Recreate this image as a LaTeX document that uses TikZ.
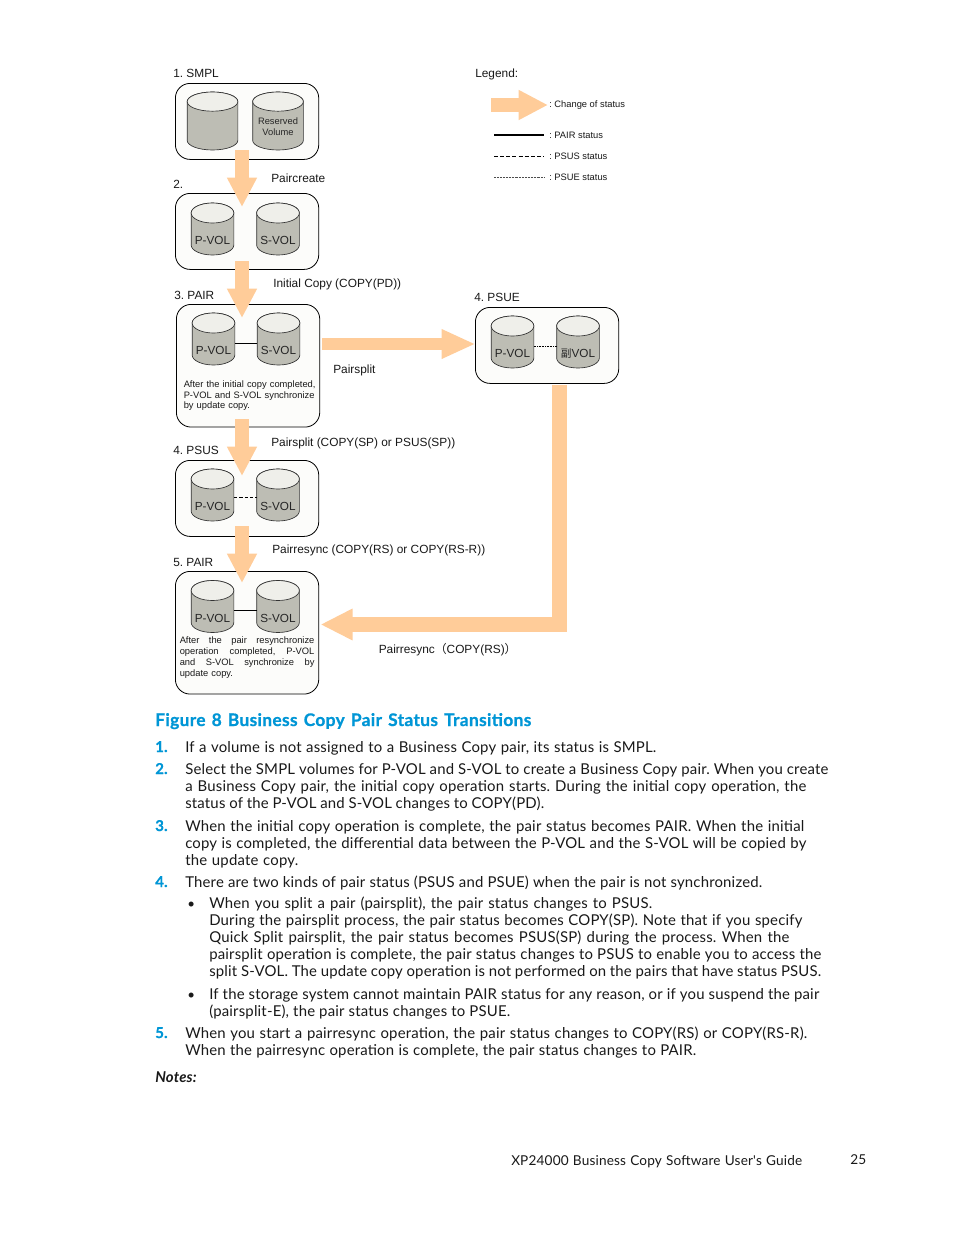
\documentclass[tikz,border=0pt]{standalone}
\usepackage{fontspec}
\setmainfont{Liberation Sans}
\newfontfamily\bodyfont[LetterSpace=1.2,BoldFeatures={FakeBold=0.7}]{Lato}
\newfontfamily\headfont[LetterSpace=2,BoldFeatures={FakeBold=0.8}]{Lato}
\newfontfamily\cjkfont{Noto Sans CJK SC}
\usetikzlibrary{arrows.meta}
\definecolor{arrowor}{HTML}{FFCC99}
\definecolor{volbody}{HTML}{BDBDB4}
\definecolor{voltop}{HTML}{EFEFEA}
\definecolor{hpblue}{HTML}{0096D6}
\definecolor{boxfill}{HTML}{FCFCFA}
\frenchspacing
\newcounter{linectr}
% x-start, baseline y, x-end, text: one line of running text set to its measured width
\newcommand{\bodyline}[4]{\stepcounter{linectr}\node[bodytext] (line\arabic{linectr}) at (#1,#2) {\makebox[\dimexpr(#3pt-#1pt)*3/4\relax][s]{#4}};}
\newcommand{\footline}[4]{\stepcounter{linectr}\node[bodytext,font=\bodyfont\fontsize{10.2}{12}\selectfont] (line\arabic{linectr}) at (#1,#2) {\makebox[\dimexpr(#3pt-#1pt)*3/4\relax][s]{#4}};}
\newcommand{\itemnum}[3]{\stepcounter{linectr}\node[bodytext,text=hpblue] (line\arabic{linectr}) at (#1,#2) {\bfseries #3};}
\newcommand{\bulletmark}[2]{\stepcounter{linectr}\node[bodytext,font=\bodyfont\fontsize{10}{11}\selectfont] (line\arabic{linectr}) at (#1,#2) {•};}
% name, centre x, centre y, half width (pt), height (pt), ellipse radius (pt)
\newcommand{\volshape}[6]{%
  \node[volbox,minimum width=#4pt*2,minimum height=#5pt] (#1) at (#2,#3) {};
  \draw[volline,fill=volbody] ([yshift=-#6pt]#1.north west) -- ([yshift=#6pt]#1.south west)
     arc[start angle=180,end angle=360,x radius=#4pt,y radius=#6pt]
     -- ([yshift=-#6pt]#1.north east)
     arc[start angle=0,end angle=180,x radius=#4pt,y radius=#6pt] -- cycle;
  \draw[volline,fill=voltop] ([yshift=-#6pt]#1.north) ellipse[x radius=#4pt,y radius=#6pt];}
\newcommand{\vol}[4]{\volshape{#1}{#2}{#3}{16}{39}{7.5}%
  \node[vollabel] (#1-text) at ([yshift=-8.8pt]#1.center) {#4};}
\tikzset{
  x=0.75pt,y=-0.75pt,
  statebox/.style={draw=black,fill=boxfill,line width=0.6pt,rounded corners=11pt,anchor=north west,inner sep=0pt,minimum width=107.5pt},
  volbox/.style={rectangle,inner sep=0pt,outer sep=0pt,anchor=center},
  volline/.style={draw=black!80,line width=0.5pt},
  vollabel/.style={font=\fontsize{8.8}{10}\selectfont,text=black!85,inner sep=0pt},
  dlabel/.style={font=\fontsize{8.9}{10}\selectfont,anchor=base west,inner sep=0pt,text=black!90},
  legendtext/.style={font=\fontsize{7}{8}\selectfont,anchor=base west,inner sep=0pt,text=black!90},
  note/.style={font=\fontsize{7}{8.3}\selectfont,anchor=north west,inner sep=0pt,text=black!90},
  flow/.style={draw=arrowor,line width=10.5pt,-{Triangle[length=22pt,width=21pt,fill=arrowor]}},
  bodytext/.style={font=\bodyfont\fontsize{11.2}{13}\selectfont,anchor=base west,inner sep=0pt,text=black!90},
  pairline/.style={draw=black,line width=0.6pt},
}
\begin{document}
\begin{tikzpicture}
\useasboundingbox[fill=white] (0,0) rectangle (954,1235);
% state boxes
\node[statebox,minimum height=57pt] (b1) at (175,83) {};
\node[statebox,minimum height=57pt] (b2) at (175,193) {};
\node[statebox,minimum height=92pt] (b3) at (176,304) {};
\node[statebox,minimum height=57pt] (b4) at (175,460) {};
\node[statebox,minimum height=92pt] (b5) at (175,571) {};
\node[statebox,minimum height=57pt] (b6) at (475,307) {};
% volumes
\volshape{v1a}{212.5}{121}{19}{43.5}{7.2}
\volshape{v1b}{278}{121}{19}{43.5}{7.2}
\node[vollabel,font=\fontsize{7}{8.3}\selectfont,align=center] (v1b-text) at ([yshift=-4.4pt]v1b.center) {Reserved\\Volume};
\vol{p2}{212.5}{229}{P-VOL}
\vol{s2}{278}{229}{S-VOL}
\vol{p3}{213.5}{339}{P-VOL}
\vol{s3}{278.5}{339}{S-VOL}
\vol{p4}{212.5}{495}{P-VOL}
\vol{s4}{278}{495}{S-VOL}
\vol{p5}{212.5}{606.5}{P-VOL}
\vol{s5}{278}{606.5}{S-VOL}
\vol{p6}{512.5}{342}{P-VOL}
\vol{s6}{578}{342}{{\cjkfont\fontsize{8}{9}\selectfont 副}VOL}
% status lines between volumes
\draw[pairline] ([yshift=-3pt]p3.east) -- ([yshift=-3pt]s3.west);
\draw[pairline,dash pattern=on 2.5pt off 1.5pt,line width=0.45pt] ([yshift=-2pt]p4.east) -- ([yshift=-2pt]s4.west);
\draw[pairline] ([yshift=-3pt]p5.east) -- ([yshift=-3pt]s5.west);
\draw[pairline,dash pattern=on 0.6pt off 0.6pt,line width=0.4pt] ([yshift=-3pt]p6.east) -- ([yshift=-3pt]s6.west);
% change-of-status arrows
\coordinate (a1s) at (242,150); \coordinate (a1e) at (242,207);
\coordinate (a2s) at (242,261); \coordinate (a2e) at (242,318);
\coordinate (a3s) at (242,419); \coordinate (a3e) at (242,476);
\coordinate (a4s) at (242,526); \coordinate (a4e) at (242,583);
\coordinate (a5s) at (322,344); \coordinate (a5e) at (475.5,344);
\coordinate (a6s) at (559.5,385); \coordinate (a6e) at (320.5,624.5);
\coordinate (a7s) at (491,105); \coordinate (a7e) at (548,105);
\foreach \s/\e in {a1s/a1e,a2s/a2e,a3s/a3e,a4s/a4e}{\draw[flow] (\s) -- (\e);}
\draw[flow,line width=9pt,-{Triangle[length=25.5pt,width=20.5pt,fill=arrowor]}] (a5s) -- (a5e);
\draw[flow,line width=11pt,-{Triangle[length=24pt,width=22pt,fill=arrowor]}] (a6s) |- (a6e);
\draw[flow] (a7s) -- (a7e);
% legend lines
\coordinate (l1a) at (494,135); \coordinate (l1b) at (544,135);
\coordinate (l2a) at (494,156.5); \coordinate (l2b) at (544,156.5);
\coordinate (l3a) at (494,177.5); \coordinate (l3b) at (544,177.5);
\draw[black,line width=1pt] (l1a) -- (l1b);
\draw[black,line width=0.7pt,dash pattern=on 3pt off 1.6pt] (l2a) -- (l2b);
\draw[black!70,line width=0.35pt,dash pattern=on 0.6pt off 0.5pt] (l3a) -- (l3b);
% diagram labels
\node[dlabel] (t1) at (173,77) {1. SMPL};
\node[dlabel] (t2) at (173,188) {2.};
\node[dlabel] (t3) at (174,299) {3. PAIR};
\node[dlabel] (t4) at (173,454) {4. PSUS};
\node[dlabel] (t5) at (173,566) {5. PAIR};
\node[dlabel] (t6) at (474,301) {4. PSUE};
\node[dlabel] (t7) at (475,77) {Legend:};
\node[dlabel] (t8) at (271,182) {Paircreate};
\node[dlabel] (t9) at (273,287) {Initial Copy (COPY(PD))};
\node[dlabel] (t10) at (333,373) {Pairsplit};
\node[dlabel] (t11) at (271,446) {Pairsplit (COPY(SP) or PSUS(SP))};
\node[dlabel] (t12) at (272,553) {Pairresync (COPY(RS) or COPY(RS-R))};
\node[dlabel] (t13) at (378.5,653) {Pairresync{\cjkfont（}COPY(RS){\cjkfont）}};
\node[legendtext] (k1) at (549,107) {: Change of status};
\node[legendtext] (k2) at (549,138) {: PAIR status};
\node[legendtext] (k3) at (549,159) {: PSUS status};
\node[legendtext] (k4) at (549,180) {: PSUE status};
\node[note,text width=100pt] (n1) at (183.5,380.5) {After the initial copy completed,\\[-0.4pt] P-VOL and S-VOL synchronize\\[-0.4pt] by update copy.};
\node[note,text width=101pt,align=left] (n2) at (179.5,636) {\leavevmode\hbox to 101pt{After\hfil the\hfil pair\hfil resynchronize}\\\leavevmode\hbox to 101pt{operation\hfil completed,\hfil P-VOL}\\\leavevmode\hbox to 101pt{and\hfil S-VOL\hfil synchronize\hfil by}\\update copy.};
% running text
\stepcounter{linectr}\node[anchor=base west,inner sep=0pt,text=hpblue,font=\headfont\bfseries\fontsize{13}{14}\selectfont] (line\arabic{linectr}) at (155,726) {\makebox[282pt][s]{Figure 8 Business Copy Pair Status Transitions}};
\itemnum{155}{752}{1.}
\bodyline{185}{752}{656}{If a volume is not assigned to a Business Copy pair, its status is SMPL.}
\itemnum{155}{774}{2.}
\bodyline{185}{774}{828}{Select the SMPL volumes for P-VOL and S-VOL to create a Business Copy pair. When you create}
\bodyline{185}{791}{806}{a Business Copy pair, the initial copy operation starts. During the initial copy operation, the}
\bodyline{185}{808}{544}{status of the P-VOL and S-VOL changes to COPY(PD).}
\itemnum{155}{831}{3.}
\bodyline{185}{831}{804}{When the initial copy operation is complete, the pair status becomes PAIR. When the initial}
\bodyline{185}{848}{806}{copy is completed, the differential data between the P-VOL and the S-VOL will be copied by}
\bodyline{185}{865}{298}{the update copy.}
\itemnum{155}{887}{4.}
\bodyline{185}{887}{762}{There are two kinds of pair status (PSUS and PSUE) when the pair is not synchronized.}
\bulletmark{187}{908}
\bodyline{209}{908}{652}{When you split a pair (pairsplit), the pair status changes to PSUS.}
\bodyline{209}{925}{802}{During the pairsplit process, the pair status becomes COPY(SP). Note that if you specify}
\bodyline{209}{942}{789}{Quick Split pairsplit, the pair status becomes PSUS(SP) during the process. When the}
\bodyline{209}{959}{821}{pairsplit operation is complete, the pair status changes to PSUS to enable you to access the}
\bodyline{209}{976}{821}{split S-VOL. The update copy operation is not performed on the pairs that have status PSUS.}
\bulletmark{187}{999}
\bodyline{209}{999}{819}{If the storage system cannot maintain PAIR status for any reason, or if you suspend the pair}
\bodyline{209}{1016}{510}{(pairsplit-E), the pair status changes to PSUE.}
\itemnum{155}{1038}{5.}
\bodyline{185}{1038}{807}{When you start a pairresync operation, the pair status changes to COPY(RS) or COPY(RS-R).}
\bodyline{185}{1055}{696}{When the pairresync operation is complete, the pair status changes to PAIR.}
\stepcounter{linectr}\node[bodytext] (line\arabic{linectr}) at (155,1082) {\bfseries\itshape Notes:};
\footline{511}{1165}{802}{XP24000 Business Copy Software User's Guide}
\footline{850}{1164}{865}{25}
\end{tikzpicture}
\end{document}
